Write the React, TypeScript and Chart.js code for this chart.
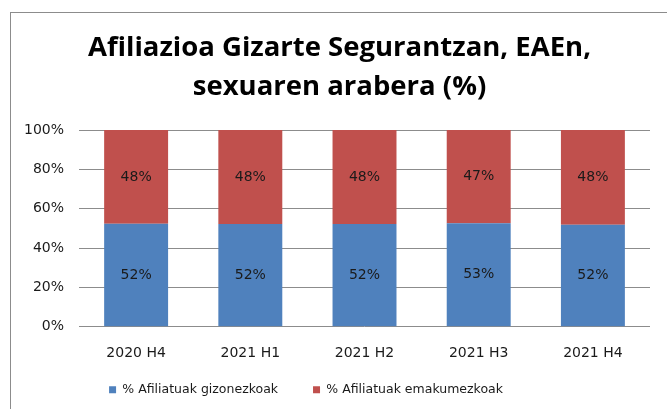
import React, { useEffect, useRef } from "react";
import { Chart, registerables } from "chart.js";

Chart.register(...registerables);

const categories = ["2020 H4", "2021 H1", "2021 H2", "2021 H3", "2021 H4"];
const menValues = [52.4, 52.3, 52.3, 52.6, 51.8];
const womenValues = [47.6, 47.7, 47.7, 47.4, 48.2];
const yTicks = [0, 20, 40, 60, 80, 100];
const titleLines = ["Afiliazioa Gizarte Segurantzan, EAEn,", "sexuaren arabera (%)"];
const seriesNames = ["% Afiliatuak gizonezkoak", "% Afiliatuak emakumezkoak"];

const FONT = "'DejaVu Sans', sans-serif";
const TITLE_FONT = "'Open Sans', sans-serif";

const labelPlugin = {
  id: "barLabels",
  afterDatasetsDraw(chart: any) {
    const ctx = chart.ctx;
    ctx.save();
    ctx.font = `14px ${FONT}`;
    ctx.fillStyle = "#1a1a1a";
    ctx.textAlign = "center";
    ctx.textBaseline = "middle";
    chart.data.datasets.forEach((ds: any, di: number) => {
      const meta = chart.getDatasetMeta(di);
      meta.data.forEach((bar: any, i: number) => {
        const v = ds.data[i];
        const cy = (bar.y + bar.base) / 2;
        ctx.fillText(Math.round(v) + "%", bar.x, cy);
      });
    });
    ctx.restore();
  },
};

const framePlugin = {
  id: "frame",
  afterLayout(chart: any) {
    if (chart.legend) {
      chart.legend.left -= 23.5;
      chart.legend.right -= 23.5;
      chart.legend.top -= 23;
      chart.legend.bottom -= 23;
    }
    if (chart.titleBlock) {
      chart.titleBlock.left += 10;
      chart.titleBlock.right += 10;
      chart.titleBlock.top += 1;
      chart.titleBlock.bottom += 1;
    }
  },
  beforeDraw(chart: any) {
    const ctx = chart.ctx;
    ctx.save();
    ctx.fillStyle = "#ffffff";
    ctx.fillRect(0, 0, chart.width, chart.height);
    ctx.strokeStyle = "#8c8c8c";
    ctx.lineWidth = 1;
    ctx.strokeRect(10.5, 12.5, chart.width + 20, chart.height + 20);
    ctx.restore();
  },
};

export default function App() {
  const ref = useRef<HTMLCanvasElement | null>(null);
  useEffect(() => {
    document.body.style.margin = "0";
    const chart = new Chart(ref.current as HTMLCanvasElement, {
      type: "bar",
      data: {
        labels: categories,
        datasets: [
          {
            label: seriesNames[0],
            data: menValues,
            backgroundColor: "#4F81BD",
            barPercentage: 0.56,
            categoryPercentage: 1,
          },
          {
            label: seriesNames[1],
            data: womenValues,
            backgroundColor: "#C0504D",
            barPercentage: 0.56,
            categoryPercentage: 1,
          },
        ],
      },
      options: {
        animation: false,
        responsive: false,
        maintainAspectRatio: false,
        layout: { padding: { left: 9, right: 17, top: 28, bottom: -20 } },
        plugins: {
          title: {
            display: true,
            text: titleLines,
            color: "#000000",
            font: { family: TITLE_FONT, size: 27.5, weight: "bold", lineHeight: 1.42 },
            padding: { top: 0, bottom: 24 },
          },
          legend: {
            position: "bottom",
            labels: {
              boxWidth: 7,
              boxHeight: 7,
              color: "#1a1a1a",
              font: { family: FONT, size: 12.5 },
              padding: 35,
            },
          },
          tooltip: { enabled: false },
        },
        scales: {
          x: {
            stacked: true,
            grid: { display: false },
            border: { display: false },
            ticks: { color: "#1a1a1a", font: { family: FONT, size: 14 }, padding: 10 },
          },
          y: {
            stacked: true,
            min: 0,
            max: 100,
            afterBuildTicks(axis: any) {
              axis.ticks = yTicks.map((v) => ({ value: v }));
            },
            grid: { color: "#8c8c8c", drawTicks: false },
            border: { display: false },
            ticks: {
              color: "#1a1a1a",
              font: { family: FONT, size: 14 },
              padding: 15,
              callback: (v: any) => v + "%",
            },
          },
        },
      },
      plugins: [framePlugin, labelPlugin],
    });
    return () => chart.destroy();
  }, []);
  return (
    <div style={{ position: "absolute", left: 0, top: 0, width: 667, height: 409 }}>
      <canvas ref={ref} width={667} height={409} />
    </div>
  );
}
